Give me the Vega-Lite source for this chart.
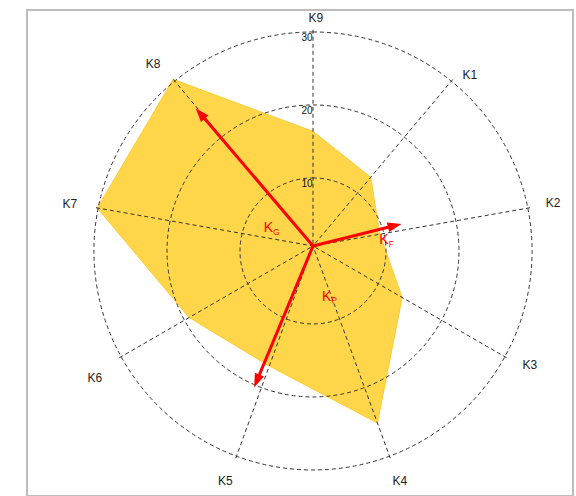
{
  "$schema": "https://vega.github.io/schema/vega-lite/v6.json",
  "width": 546,
  "height": 486,
  "autosize": {"type": "none"},
  "padding": {"left": 27, "top": 10, "right": 3, "bottom": 0},
  "background": "white",
  "config": {
    "view": {"stroke": "#BDBDBD", "strokeWidth": 2},
    "text": {"font": "Liberation Sans"}
  },
  "datasets": {
    "axes": [
      {"axis": "K1", "k": 1, "value": 12.3, "lx": 21.5, "ly": 23.4},
      {"axis": "K2", "k": 2, "value": 9.3, "lx": 32.9, "ly": 5.9},
      {"axis": "K3", "k": 3, "value": 14.1, "lx": 29.7, "ly": -16.3},
      {"axis": "K4", "k": 4, "value": 25.8, "lx": 11.9, "ly": -32.2},
      {"axis": "K5", "k": 5, "value": 17.5, "lx": -12.0, "ly": -32.2},
      {"axis": "K6", "k": 6, "value": 19.6, "lx": -29.9, "ly": -18.1},
      {"axis": "K7", "k": 7, "value": 30.0, "lx": -33.3, "ly": 5.75},
      {"axis": "K8", "k": 8, "value": 29.8, "lx": -21.9, "ly": 24.9},
      {"axis": "K9", "k": 9, "value": 15.7, "lx": 0.4, "ly": 31.2}
    ],
    "rings": [
      {"r": 10, "label": "10"},
      {"r": 20, "label": "20"},
      {"r": 30, "label": "30"}
    ],
    "vectors": [
      {"name": "G", "bearing": 319.6, "mag": 24.8, "tx": -6.12, "ty": 2.42},
      {"name": "F", "bearing": 76.0, "mag": 12.5, "tx": 9.73, "ty": 0.82},
      {"name": "P", "bearing": 202.6, "mag": 21.0, "tx": 1.88, "ty": -6.95}
    ]
  },
  "layer": [
    {
      "data": {"name": "axes"},
      "transform": [
        {"calculate": "(90 - 40*datum.k)*PI/180", "as": "a"},
        {"calculate": "datum.value*cos(datum.a)", "as": "px"},
        {"calculate": "datum.value*sin(datum.a)", "as": "py"}
      ],
      "mark": {"type": "line", "interpolate": "linear-closed", "fill": "#FFD64A", "stroke": "#FFCB2E", "strokeWidth": 1},
      "encoding": {
        "x": {"field": "px", "type": "quantitative", "scale": {"domain": [-39.178, 35.616], "nice": false, "zero": false}, "axis": null},
        "y": {"field": "py", "type": "quantitative", "scale": {"domain": [-34.247, 32.329], "nice": false, "zero": false}, "axis": null},
        "order": {"field": "k", "type": "quantitative"}
      }
    },
    {
      "data": {"name": "rings"},
      "mark": {"type": "arc", "theta": 0, "theta2": 6.2832, "filled": false, "stroke": "#333333", "strokeWidth": 1, "strokeDash": [4, 3]},
      "encoding": {
        "x": {"datum": 0, "type": "quantitative", "scale": {"domain": [-39.178, 35.616], "nice": false, "zero": false}, "axis": null},
        "y": {"datum": -0.68, "type": "quantitative", "scale": {"domain": [-34.247, 32.329], "nice": false, "zero": false}, "axis": null},
        "radius": {"field": "r", "type": "quantitative", "stack": null, "scale": {"type": "linear", "domain": [0, 30], "range": [0, 219], "zero": true}}
      }
    },
    {
      "data": {"name": "axes"},
      "transform": [
        {"calculate": "(90 - 40*datum.k)*PI/180", "as": "a"},
        {"calculate": "(30.3 - 0.68*sin(datum.a))*cos(datum.a)", "as": "sx"},
        {"calculate": "(30.3 - 0.68*sin(datum.a))*sin(datum.a)", "as": "sy"}
      ],
      "mark": {"type": "rule", "stroke": "#333333", "strokeWidth": 1, "strokeDash": [4, 3]},
      "encoding": {
        "x": {"field": "sx", "type": "quantitative", "scale": {"domain": [-39.178, 35.616], "nice": false, "zero": false}, "axis": null},
        "y": {"field": "sy", "type": "quantitative", "scale": {"domain": [-34.247, 32.329], "nice": false, "zero": false}, "axis": null},
        "x2": {"datum": 0},
        "y2": {"datum": 0}
      }
    },
    {
      "data": {"name": "rings"},
      "transform": [{"calculate": "datum.r - 0.68", "as": "ry"}],
      "mark": {"type": "text", "fontSize": 10, "color": "#111111", "dx": -6, "dy": 6, "align": "center", "baseline": "middle"},
      "encoding": {
        "x": {"datum": 0, "type": "quantitative", "scale": {"domain": [-39.178, 35.616], "nice": false, "zero": false}, "axis": null},
        "y": {"field": "ry", "type": "quantitative", "scale": {"domain": [-34.247, 32.329], "nice": false, "zero": false}, "axis": null},
        "text": {"field": "label"}
      }
    },
    {
      "data": {"name": "axes"},
      "mark": {"type": "text", "fontSize": 12, "color": "#222222", "align": "center", "baseline": "middle"},
      "encoding": {
        "x": {"field": "lx", "type": "quantitative", "scale": {"domain": [-39.178, 35.616], "nice": false, "zero": false}, "axis": null},
        "y": {"field": "ly", "type": "quantitative", "scale": {"domain": [-34.247, 32.329], "nice": false, "zero": false}, "axis": null},
        "text": {"field": "axis"}
      }
    },
    {
      "data": {"name": "vectors"},
      "transform": [
        {"calculate": "datum.bearing*PI/180", "as": "b"},
        {"calculate": "(datum.mag - 1.2)*sin(datum.b)", "as": "rx"},
        {"calculate": "(datum.mag - 1.2)*cos(datum.b)", "as": "ry"}
      ],
      "mark": {"type": "rule", "color": "#FF0000", "strokeWidth": 3},
      "encoding": {
        "x": {"field": "rx", "type": "quantitative", "scale": {"domain": [-39.178, 35.616], "nice": false, "zero": false}, "axis": null},
        "y": {"field": "ry", "type": "quantitative", "scale": {"domain": [-34.247, 32.329], "nice": false, "zero": false}, "axis": null},
        "x2": {"datum": 0},
        "y2": {"datum": 0}
      }
    },
    {
      "data": {"name": "vectors"},
      "transform": [
        {"calculate": "datum.bearing*PI/180", "as": "b"},
        {"calculate": "datum.mag*sin(datum.b)", "as": "ex"},
        {"calculate": "datum.mag*cos(datum.b)", "as": "ey"}
      ],
      "mark": {"type": "point", "shape": "M0,0L0.7,2L-0.7,2Z", "filled": true, "color": "#FF0000", "size": 196, "opacity": 1},
      "encoding": {
        "x": {"field": "ex", "type": "quantitative", "scale": {"domain": [-39.178, 35.616], "nice": false, "zero": false}, "axis": null},
        "y": {"field": "ey", "type": "quantitative", "scale": {"domain": [-34.247, 32.329], "nice": false, "zero": false}, "axis": null},
        "angle": {"field": "bearing", "type": "quantitative", "scale": null}
      }
    },
    {
      "data": {"name": "vectors"},
      "mark": {"type": "text", "fontSize": 14, "color": "#FF0000", "align": "center", "baseline": "middle"},
      "encoding": {
        "x": {"field": "tx", "type": "quantitative", "scale": {"domain": [-39.178, 35.616], "nice": false, "zero": false}, "axis": null},
        "y": {"field": "ty", "type": "quantitative", "scale": {"domain": [-34.247, 32.329], "nice": false, "zero": false}, "axis": null},
        "text": {"value": "K"}
      }
    },
    {
      "data": {"name": "vectors"},
      "mark": {"type": "text", "fontSize": 8.5, "color": "#FF0000", "align": "left", "baseline": "middle", "dx": 4.6, "dy": 3.5},
      "encoding": {
        "x": {"field": "tx", "type": "quantitative", "scale": {"domain": [-39.178, 35.616], "nice": false, "zero": false}, "axis": null},
        "y": {"field": "ty", "type": "quantitative", "scale": {"domain": [-34.247, 32.329], "nice": false, "zero": false}, "axis": null},
        "text": {"field": "name"}
      }
    }
  ]
}
